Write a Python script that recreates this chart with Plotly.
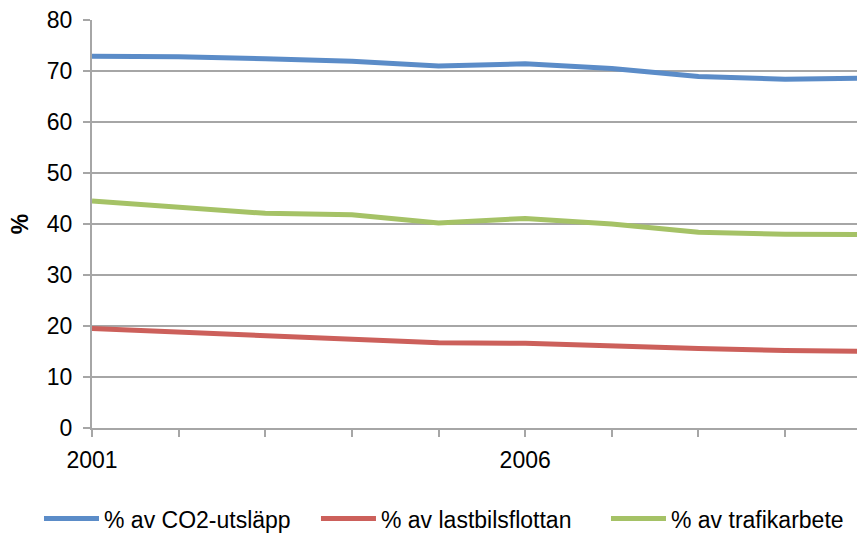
import plotly.graph_objects as go

# Years and series (%)
years = [2001, 2002, 2003, 2004, 2005, 2006, 2007, 2008, 2009, 2010]
co2_share = [72.9, 72.8, 72.4, 71.9, 71.0, 71.4, 70.5, 68.9, 68.4, 68.6]
fleet_share = [19.5, 18.8, 18.1, 17.4, 16.7, 16.6, 16.0, 15.6, 15.2, 15.0]
traffic_share = [44.5, 43.4, 42.1, 41.8, 40.2, 41.1, 40.0, 38.4, 38.0, 37.9]

series_names = ["% av CO2-utsläpp", "% av lastbilsflottan", "% av trafikarbete"]
series_colors = ["#5B8CC8", "#CC605B", "#A5C266"]

tick_years = [2001, 2002, 2003, 2004, 2005, 2006, 2007, 2008, 2009]
tick_labels = ["2001", "", "", "", "", "2006", "", "", ""]
y_ticks = [0, 10, 20, 30, 40, 50, 60, 70, 80]

FONT = "Liberation Sans, Arial, sans-serif"
GRID = "#A6A6A6"

# one legend box per series so each entry sits in its own slot along the bottom
legend_ids = ["legend", "legend2", "legend3"]
legend_x = [0.0455, 0.3687, 0.7071]

fig = go.Figure()
for name, vals, col, lid in zip(series_names, [co2_share, fleet_share, traffic_share],
                                series_colors, legend_ids):
    fig.add_trace(go.Scatter(
        x=years, y=vals, mode="lines", name=name,
        line=dict(color=col, width=5), legend=lid,
    ))

legend_style = dict(
    orientation="h", xref="container", yref="container",
    xanchor="left", y=0.027, yanchor="middle",
    font=dict(family=FONT, size=23), itemwidth=55,
    bgcolor="rgba(0,0,0,0)",
)

fig.update_layout(
    width=857, height=533,
    margin=dict(l=92, r=0, t=20, b=105),
    paper_bgcolor="white", plot_bgcolor="white",
    font=dict(family=FONT, size=23, color="black"),
    showlegend=True,
    legend=dict(x=legend_x[0], **legend_style),
    legend2=dict(x=legend_x[1], **legend_style),
    legend3=dict(x=legend_x[2], **legend_style),
)

fig.update_xaxes(
    range=[2001, 2009.83], tickmode="array",
    tickvals=tick_years, ticktext=tick_labels,
    showgrid=False, showline=True, linecolor=GRID, linewidth=2,
    ticks="outside", ticklen=7, tickwidth=2, tickcolor=GRID,
    tickfont=dict(family=FONT, size=23), ticklabelstandoff=3,
    zeroline=False,
)
fig.update_yaxes(
    range=[0, 80], tickmode="array", tickvals=y_ticks,
    showgrid=True, gridcolor=GRID, gridwidth=2,
    showline=True, linecolor=GRID, linewidth=2,
    ticks="outside", ticklen=7, tickwidth=2, tickcolor=GRID,
    tickfont=dict(family=FONT, size=23), ticklabelstandoff=6,
    zeroline=False,
    title=dict(text="<b>%</b>", font=dict(family=FONT, size=23), standoff=12),
)

fig.write_html("out.html")
